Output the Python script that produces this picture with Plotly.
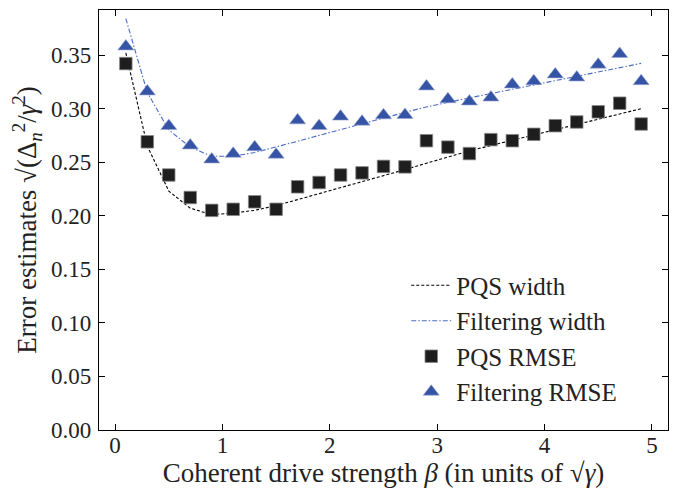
import plotly.graph_objects as go

beta = [0.1, 0.3, 0.5, 0.7, 0.9, 1.1, 1.3, 1.5, 1.7, 1.9, 2.1, 2.3, 2.5,
        2.7, 2.9, 3.1, 3.3, 3.5, 3.7, 3.9, 4.1, 4.3, 4.5, 4.7, 4.9]

pqs_width = [0.352, 0.265, 0.223, 0.207, 0.201, 0.2025, 0.205, 0.2095, 0.2150,
             0.2205, 0.2260, 0.2318, 0.2375, 0.2430, 0.2490, 0.2550, 0.2605,
             0.2655, 0.2705, 0.2755, 0.2805, 0.2855, 0.2903, 0.2951, 0.2999]

filt_width = [0.384, 0.315, 0.280, 0.264, 0.2555, 0.2555, 0.259, 0.2640, 0.2695,
              0.2750, 0.2805, 0.2860, 0.2915, 0.2965, 0.3015, 0.3060, 0.3100,
              0.3140, 0.3180, 0.3220, 0.3262, 0.3302, 0.3342, 0.3382, 0.3422]

pqs_rmse = [0.342, 0.269, 0.238, 0.217, 0.205, 0.206, 0.213, 0.206, 0.227,
            0.231, 0.238, 0.240, 0.246, 0.2456, 0.270, 0.264, 0.258, 0.271,
            0.270, 0.276, 0.284, 0.2875, 0.297, 0.305, 0.2856]

filt_rmse = [0.358, 0.316, 0.2837, 0.2656, 0.2525, 0.2578, 0.264, 0.257, 0.289,
             0.2837, 0.2925, 0.2878, 0.2937, 0.294, 0.3207, 0.3087, 0.3066,
             0.3103, 0.3225, 0.3256, 0.3319, 0.329, 0.341, 0.351, 0.3256]

x_ticks = [0, 1, 2, 3, 4, 5]
y_ticks = [0.00, 0.05, 0.10, 0.15, 0.20, 0.25, 0.30, 0.35]

FONT = "Liberation Serif"
TXT = "#222222"
BLUE = "#3554a5"
BLUE_LINE = "#4a6cc4"

fig = go.Figure()
fig.add_trace(go.Scatter(
    x=beta, y=pqs_width, mode="lines", name="PQS width",
    line=dict(color="black", width=1.1, dash="3px,2px"),
    legendgroup="a"))
fig.add_trace(go.Scatter(
    x=beta, y=filt_width, mode="lines", name="Filtering width",
    line=dict(color=BLUE_LINE, width=1.1, dash="5px,2px,1.5px,2px"),
    legendgroup="b"))
fig.add_trace(go.Scatter(
    x=beta, y=pqs_rmse, mode="markers", name="PQS RMSE",
    marker=dict(symbol="square", size=12.5, color="#1e1e1e",
                line=dict(color="#888888", width=0.8)),
    legendgroup="c"))
fig.add_trace(go.Scatter(
    x=beta, y=filt_rmse, mode="markers", name="Filtering RMSE",
    marker=dict(symbol="triangle-up", size=14, color=BLUE,
                line=dict(color="#9aa8d0", width=0.6)),
    legendgroup="d"))

axis_common = dict(
    showline=True, linecolor="black", linewidth=1.2, mirror="ticks",
    ticks="inside", ticklen=6, tickwidth=1.1, tickcolor="black",
    showgrid=False, zeroline=False, automargin=False,
    tickfont=dict(family=FONT, size=23, color=TXT),
)

fig.update_layout(
    width=669, height=488,
    margin=dict(l=91, r=9, t=2, b=66),
    paper_bgcolor="white", plot_bgcolor="white",
    font=dict(family=FONT, size=23, color=TXT),
    xaxis=dict(range=[-0.15, 5.15], tickvals=x_ticks,
               ticktext=[str(v) for v in x_ticks],
               title=dict(text="Coherent drive strength <i>β</i> (in units of √<i>γ</i>)",
                          font=dict(family=FONT, size=27, color=TXT), standoff=1),
               ticklabelstandoff=-6,
               **axis_common),
    yaxis=dict(range=[0, 0.392], tickvals=y_ticks,
               ticktext=[f"{v:.2f}" for v in y_ticks],
               title=dict(text="Error estimates √(Δ<sub><i>n</i></sub><sup>2</sup>/<i>γ</i><sup>2</sup>)",
                          font=dict(family=FONT, size=27, color=TXT), standoff=7),
               ticklabelstandoff=2,
               **axis_common),
    legend=dict(x=0.540, y=0.037, xanchor="left", yanchor="bottom",
                bgcolor="rgba(0,0,0,0)", borderwidth=0,
                font=dict(family=FONT, size=25, color=TXT),
                tracegroupgap=0, itemwidth=40),
    showlegend=True,
)

fig.write_html("out.html")
